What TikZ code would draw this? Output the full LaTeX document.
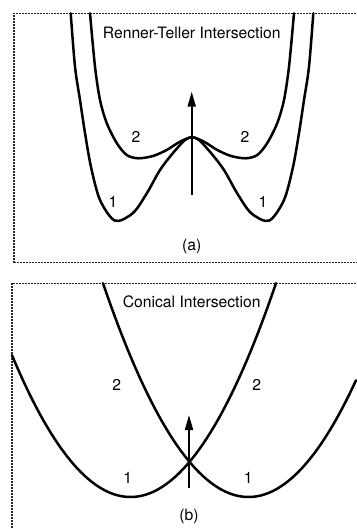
\documentclass[tikz,border=0pt]{standalone}
\usepackage{fontspec}
\setmainfont{TeX Gyre Heros}
\usetikzlibrary{arrows.meta}

\begin{document}
\begin{tikzpicture}[
        x=1pt, y=-1pt,
        every node/.style={font=\fontsize{15.7}{18}\selectfont, inner sep=0pt},
        frame/.style={draw=black!85, line width=1.3pt, dash pattern=on 1pt off 0.5pt},
        curve/.style={line width=2.5pt, line join=round, line cap=round},
        arr/.style={-{Triangle[length=15pt, width=8pt]}, line width=2pt}
    ]
    \useasboundingbox (0,0) rectangle (356,529);

    \draw[frame] (356,13.3) -- (14,13.3) -- (14,262.5) -- (356,262.5);
    \node (ta) at (191.7,33.3) {Renner-Teller Intersection};

    \draw[curve] plot[smooth] coordinates {(70.7,13.3) (75,66.7) (80,100) (85,133) (91,167) (100,200) (115,220.7)
        (133,213) (147,193) (160,170) (173,153) (185,140) (192,137.3) (199,140) (211,153) (224,170) (237,193)
        (251,213) (269,220.7) (284,200) (293,167) (299,133) (304,100) (309,66.7) (313.3,13.3)};
    \draw[curve] plot[smooth] coordinates {(90,13.3) (95,66.7) (100,100) (106.7,123) (116.7,143) (126.7,155)
        (138.3,158.3) (153,156) (166.7,150) (180,141.7) (192,137.3) (204,141.7) (217.3,150) (231,156)
        (245.7,158.3) (257.3,155) (267.3,143) (277.3,123) (284,100) (289,66.7) (294,13.3)};

    \coordinate (abase) at (191.7,195);
    \coordinate (atip) at (191.7,91.7);
    \draw[arr] (abase) -- (atip);

    \node (a2l) at (136,137) {2};
    \node (a2r) at (245,137) {2};
    \node (a1l) at (113,201.7) {1};
    \node (a1r) at (263,201.7) {1};
    \node (capa) at (191.7,246.7) {(a)};

    \draw[frame] (356,283.3) -- (12,283.3) -- (12,529);
    \node (tb) at (191.7,301.7) {Conical Intersection};

    \draw[curve, domain=12:276, samples=120] plot (\x, {497-1.01*((\x-130.5)/10)^2});
    \draw[curve, domain=103:356, samples=120] plot (\x, {497-1.01*((\x-248.5)/10)^2});

    \coordinate (bbase) at (189,488.3);
    \coordinate (btip) at (189,415);
    \draw[arr] (bbase) -- (btip);

    \node (b2l) at (116.7,385) {2};
    \node (b2r) at (256.7,385) {2};
    \node (b1l) at (127.7,478.3) {1};
    \node (b1r) at (248.3,478.3) {1};
    \node (capb) at (189,516.7) {(b)};
\end{tikzpicture}
\end{document}
